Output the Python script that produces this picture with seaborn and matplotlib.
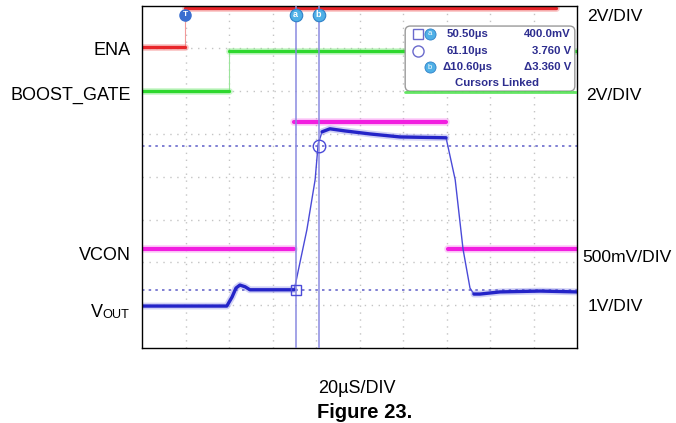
"""
Scope capture: ENA / BOOST_GATE / VCON / VOUT start-up waveform (Figure 23).
"""

import numpy as np
import pandas as pd
import matplotlib
matplotlib.use('Agg')
import matplotlib.pyplot as plt
from matplotlib.patches import FancyBboxPatch
import seaborn as sns

# screen units: x in divisions (20us/div), y in divisions from bottom (8 div high)
ena_x = [0.0, 0.99, 0.99, 9.52]
ena_y = [7.03, 7.03, 7.94, 7.94]

gate_x = [0.0, 2.0, 2.0, 10.0]
gate_y = [6.0, 6.0, 6.94, 6.94]

# VCON is drawn in three pieces (low, high, low) - edges too fast to show
vcon_x = [0.0, 3.50, 3.50, 6.99, 7.03, 10.0]
vcon_y = [2.31, 2.31, 5.28, 5.28, 2.31, 2.31]
vcon_seg = [0, 0, 1, 1, 2, 2]

vout_x = [0.0, 1.95, 2.07, 2.16, 2.25, 2.37, 2.48, 3.50, 3.63, 3.79, 3.98,
          4.05, 4.14, 4.32, 4.67, 5.24, 5.93, 6.99, 7.20, 7.38, 7.54, 7.63,
          7.77, 8.23, 9.15, 10.0]
vout_y = [0.98, 0.98, 1.19, 1.40, 1.47, 1.43, 1.36, 1.36, 1.99, 2.76, 3.93,
          4.77, 5.05, 5.12, 5.07, 5.00, 4.93, 4.91, 3.93, 2.31, 1.40, 1.26,
          1.26, 1.31, 1.33, 1.31]
# index ranges where the trace is slow (drawn bright/thick)
vout_slow = [(0, 8), (12, 18), (21, 26)]

cursor_a = 3.53
cursor_b = 4.06
cursor_lo = 1.36   # 400.0mV
cursor_hi = 4.72   # 3.760 V
trigger_x = 0.99

readout_rows = [('50.50µs', '400.0mV'), ('61.10µs', '3.760 V'), ('Δ10.60µs', 'Δ3.360 V')]

left_labels = [('ENA', 55), ('BOOST_GATE', 100), ('VCON', 260)]
right_labels = [('2V/DIV', 21, 587), ('2V/DIV', 100, 586), ('500mV/DIV', 262, 582),
                ('1V/DIV', 311, 588)]

W, H = 676, 423


def fx(p):
    return p / W


def fy(p):
    return 1 - p / H


def trace(ax, xs, ys, color, glow, lw=2.4, seg=None):
    df = pd.DataFrame({'x': xs, 'y': ys, 'seg': seg if seg is not None else [0] * len(xs)})
    sns.lineplot(data=df, x='x', y='y', units='seg', estimator=None, sort=False,
                 color=glow, lw=lw + 2.5, alpha=0.35, ax=ax, legend=False)
    sns.lineplot(data=df, x='x', y='y', units='seg', estimator=None, sort=False,
                 color=color, lw=lw, ax=ax, legend=False)


sns.set_style('white')
plt.rcParams['font.family'] = ['Liberation Sans', 'DejaVu Sans']
plt.rcParams['text.color'] = 'black'

fig = plt.figure(figsize=(W / 100, H / 100), dpi=100)
ax = fig.add_axes([fx(142), 1 - 348 / H, 435 / W, 342.5 / H])
ax.set_xlim(0, 10)
ax.set_ylim(0, 8)

# graticule
for gx in range(1, 10):
    ax.axvline(gx, color='#c4c4c4', lw=1, ls=(0, (1, 4)), zorder=0)
for gy in range(1, 8):
    ax.axhline(gy, color='#c4c4c4', lw=1, ls=(0, (1, 4)), zorder=0)

# horizontal cursors
ax.axhline(cursor_lo, color='#6a6acc', lw=1.2, ls=(0, (1.5, 2.5)), zorder=1)
ax.axhline(cursor_hi, color='#6a6acc', lw=1.2, ls=(0, (1.5, 2.5)), zorder=1)

# ENA (red), fast edge is faint
ax.plot([ena_x[1], ena_x[2]], [ena_y[1], ena_y[2]], color='#f29a9a', lw=0.8)
trace(ax, ena_x[:2], ena_y[:2], '#e8262a', '#f06060')
trace(ax, ena_x[2:], ena_y[2:], '#e8262a', '#f06060')

# BOOST_GATE (green)
ax.plot([gate_x[1], gate_x[2]], [gate_y[1], gate_y[2]], color='#9be39b', lw=0.8)
trace(ax, gate_x[:2], gate_y[:2], '#2ed82e', '#70e870')
trace(ax, gate_x[2:], gate_y[2:], '#2ed82e', '#70e870')

# VCON (magenta)
trace(ax, vcon_x, vcon_y, '#f21ee0', '#f870ee', lw=3.0, seg=vcon_seg)

# VOUT (blue): thin over the whole trace, thick on the slow parts
ax.plot(vout_x, vout_y, color='#4a4ad8', lw=1.0)
for i0, i1 in vout_slow:
    trace(ax, vout_x[i0:i1], vout_y[i0:i1], '#2424c8', '#7a7ae4', lw=2.4)

# vertical cursors
for cx in (cursor_a, cursor_b):
    ax.axvline(cx, color='#8a8ae0', lw=1.1, zorder=3)

ax.plot(cursor_a, cursor_lo, marker='s', ms=7, mfc='none', mec='#4a4ad8', mew=1.0, zorder=4)
ax.plot(cursor_b, cursor_hi, marker='o', ms=9, mfc='none', mec='#4a4ad8', mew=1.0, zorder=4)

# cursor / trigger flags at the top
for cx, lab in ((cursor_a, 'a'), (cursor_b, 'b')):
    ax.plot(cx, 7.78, marker='o', ms=9, mfc='#4fb0e6', mec='#2f80c8', mew=0.8, zorder=5)
    ax.text(cx, 7.78, lab, color='white', fontsize=6.5, ha='center', va='center',
            fontweight='bold', zorder=6)
ax.plot(trigger_x, 7.78, marker='o', ms=8, mfc='#3a6fd0', mec='#3a6fd0', zorder=5)
ax.text(trigger_x, 7.78, 'T', color='white', fontsize=6, ha='center', va='center',
        fontweight='bold', zorder=6)

# cursor readout box
box = FancyBboxPatch((6.05, 6.0), 3.9, 1.52, boxstyle='round,pad=0,rounding_size=0.12',
                     fc='white', ec='#9a9a9a', lw=1.0, zorder=6)
ax.add_patch(box)
ax.plot([6.05, 10.0], [5.98, 5.98], color='#3ee03e', lw=2.0, alpha=0.8, zorder=6)

tcol = '#2d2d8f'
row_y = [7.34, 6.94, 6.56]
for (tval, vval), ry in zip(readout_rows, row_y):
    ax.text(7.49, ry, tval, color=tcol, fontsize=8.2, fontweight='bold',
            ha='center', va='center', zorder=7)
    ax.text(9.86, ry, vval, color=tcol, fontsize=8.2, fontweight='bold',
            ha='right', va='center', zorder=7)
ax.text(8.16, 6.19, 'Cursors Linked', color=tcol, fontsize=8.2,
        fontweight='bold', ha='center', va='center', zorder=7)
ax.plot(6.34, row_y[0], marker='s', ms=7, mfc='none', mec='#6a6acc', mew=1.0, zorder=7)
ax.plot(6.62, row_y[0], marker='o', ms=8, mfc='#4fb0e6', mec='#2f80c8', mew=0.6, zorder=7)
ax.text(6.62, row_y[0], 'a', color='white', fontsize=5.5, ha='center', va='center', zorder=8)
ax.plot(6.34, row_y[1], marker='o', ms=8, mfc='none', mec='#6a6acc', mew=1.0, zorder=7)
ax.plot(6.62, row_y[2], marker='o', ms=8, mfc='#4fb0e6', mec='#2f80c8', mew=0.6, zorder=7)
ax.text(6.62, row_y[2], 'b', color='white', fontsize=5.5, ha='center', va='center', zorder=8)

ax.set_xticks([])
ax.set_yticks([])
ax.set_xlabel('')
ax.set_ylabel('')
for sp in ax.spines.values():
    sp.set_visible(True)
    sp.set_color('black')
    sp.set_linewidth(1.0)

# channel labels
for lab, base in left_labels:
    fig.text(fx(131), fy(base), lab, fontsize=13, ha='right', va='baseline')
fig.text(fx(103), fy(317), 'V', fontsize=13, ha='right', va='baseline')
fig.text(fx(102.5), fy(318), 'OUT', fontsize=9.2, ha='left', va='baseline')
for lab, base, left in right_labels:
    fig.text(fx(left), fy(base), lab, fontsize=12.6, ha='left', va='baseline')

fig.text(fx(357), fy(393), '20µS/DIV', fontsize=13, ha='center', va='baseline')
fig.text(fx(365), fy(418), 'Figure 23.', fontsize=14.5, fontweight='bold',
         ha='center', va='baseline')

fig.savefig('out.png', dpi=100)
plt.close(fig)
